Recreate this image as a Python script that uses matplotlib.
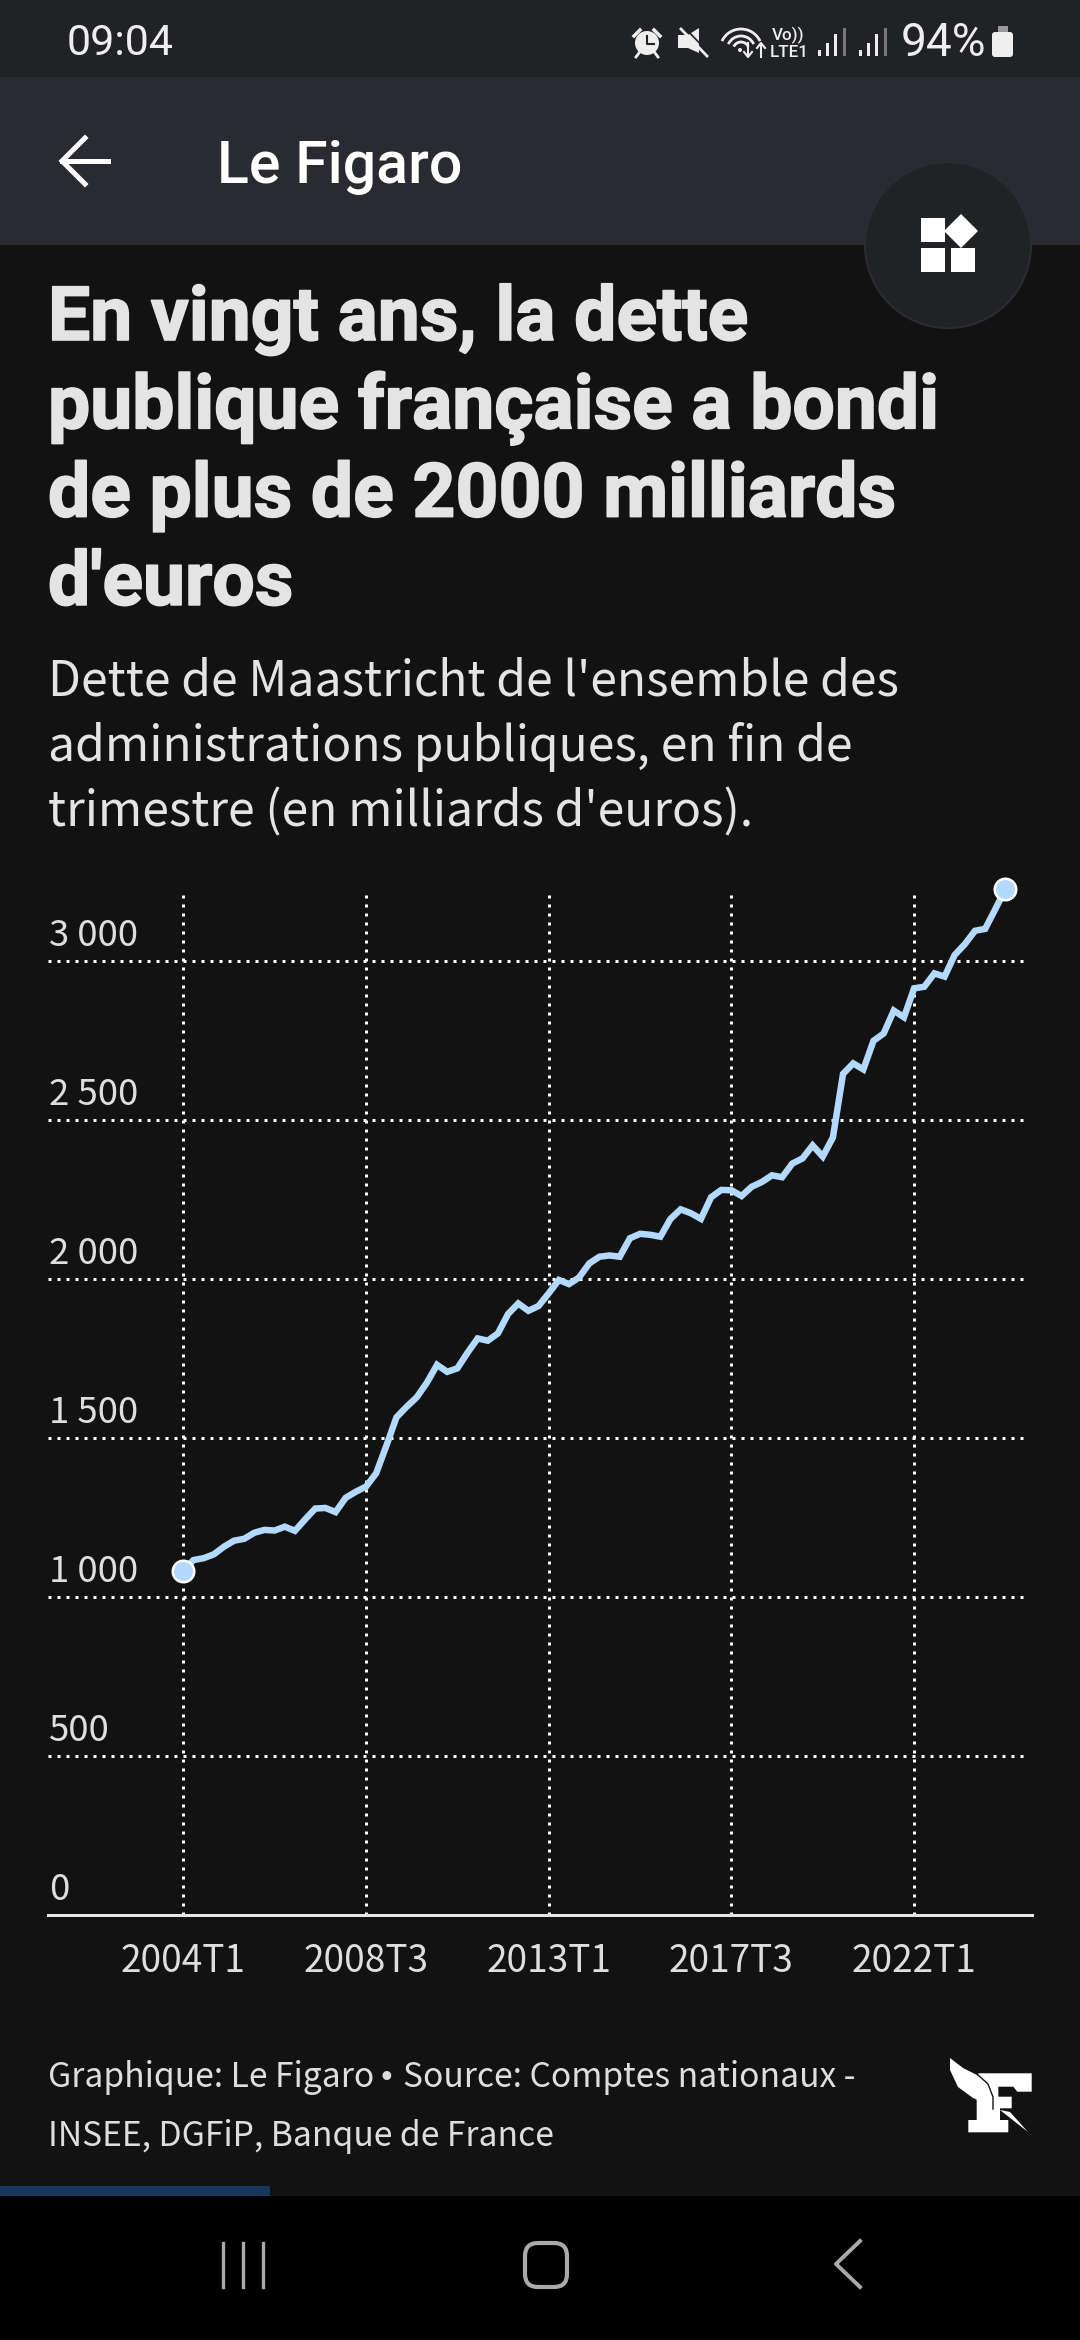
"""
Le Figaro : dette publique française, capture d'écran de l'appli
"""

import matplotlib
matplotlib.use("Agg")
import matplotlib.pyplot as plt
import matplotlib.patheffects as pe
from matplotlib.patches import Rectangle, Circle, Polygon, FancyBboxPatch, Arc
from matplotlib.lines import Line2D
from matplotlib.transforms import ScaledTranslation

W, H = 1080, 2340
plt.rcParams['font.family'] = ['Noto Sans CJK SC', 'DejaVu Sans']

BODY = "#121213"
LINE_COLOR = "#b3d9ff"
TEXT_COLOR = "#dedede"

# dette de Maastricht, un point par trimestre depuis 2004T1
debt = [
    1084, 1117, 1123, 1135, 1159, 1178, 1184, 1203, 1212, 1210, 1222, 1209,
    1245, 1279, 1281, 1268, 1313, 1332, 1348, 1390, 1476, 1566, 1599, 1629,
    1675, 1731, 1709, 1720, 1769, 1814, 1807, 1830, 1891, 1924, 1901, 1916,
    1956, 1998, 1985, 2006, 2050, 2071, 2075, 2071, 2129, 2143, 2140, 2134,
    2190, 2220, 2208, 2190, 2258, 2281, 2280, 2262, 2291, 2306, 2327, 2321,
    2364, 2380, 2421, 2386, 2446, 2646, 2679, 2660, 2750, 2773, 2845, 2824,
    2915, 2920, 2962, 2952, 3020, 3054, 3096, 3102, 3164, 3227,
]
y_ticks = [0, 500, 1000, 1500, 2000, 2500, 3000]
y_labels = ["0", "500", "1 000", "1 500", "2 000", "2 500", "3 000"]
x_ticks = [0, 18, 36, 54, 72]
x_labels = ["2004T1", "2008T3", "2013T1", "2017T3", "2022T1"]

title_lines = [
    "En vingt ans, la dette",
    "publique française a bondi",
    "de plus de 2000 milliards",
    "d'euros",
]
subtitle_lines = [
    "Dette de Maastricht de l'ensemble des",
    "administrations publiques, en fin de",
    "trimestre (en milliards d'euros).",
]
source_credit = "Graphique: Le Figaro"
source_first = "Source: Comptes nationaux -"
source_second = "INSEE, DGFiP, Banque de France"


def px(size):
    # taille de police en pixels -> points
    return size * 72 / 100


fig = plt.figure(figsize=(W / 100, H / 100), dpi=100, facecolor=BODY)

# fond : tout en coordonnées pixels
bg = fig.add_axes([0, 0, 1, 1])
bg.set_xlim(0, W)
bg.set_ylim(H, 0)
bg.axis("off")

bg.add_patch(Rectangle((0, 0), W, 77, color="#202226", lw=0))
bg.add_patch(Rectangle((0, 77), W, 168, color="#292b30", lw=0))
bg.add_patch(Rectangle((0, 2196), W, 144, color="black", lw=0))
bg.add_patch(Rectangle((0, 2186), 270, 10, color="#17375f", lw=0))

# barre d'état
ICON = "#eeeeee"
bg.text(67, 55, "09:04", family="Roboto", fontsize=px(43), color=ICON, va="baseline")
bg.text(901, 56, "94%", family="Roboto", fontsize=px(46), color=ICON, va="baseline")
bg.add_patch(FancyBboxPatch((992, 32), 21, 25, boxstyle="round,pad=0,rounding_size=3", color=ICON, lw=0))
bg.add_patch(Rectangle((998, 26), 10, 6, color="#999999", lw=0))
# réveil
bg.add_patch(Circle((647, 43), 12, color=ICON, lw=0))
bg.add_line(Line2D([647, 647, 654], [36, 44, 44], color="#202226", lw=1.5))
bg.add_line(Line2D([634, 640], [36, 30], color=ICON, lw=2.5))
bg.add_line(Line2D([654, 660], [30, 36], color=ICON, lw=2.5))
bg.add_line(Line2D([639, 636], [53, 57], color=ICON, lw=2))
bg.add_line(Line2D([655, 658], [53, 57], color=ICON, lw=2))
# son coupé
bg.add_patch(Polygon([(678, 35), (688, 35), (699, 28), (699, 53), (688, 48), (678, 48)], color=ICON, lw=0))
bg.add_line(Line2D([681, 707], [29, 56], color=ICON, lw=2))
bg.add_line(Line2D([684, 710], [27, 54], color="#202226", lw=1.2))
# wifi
for r in [21, 14, 8]:
    bg.add_patch(Arc((741, 50), r * 2, r * 2, theta1=205, theta2=335, color=ICON, lw=2))
bg.add_patch(Circle((740, 50), 2, color=ICON, lw=0))
bg.add_line(Line2D([748, 748], [43, 56], color=ICON, lw=1.5))
bg.add_line(Line2D([744, 748, 752], [52, 57, 52], color=ICON, lw=1.5))
bg.add_line(Line2D([761, 761], [44, 57], color=ICON, lw=1.5))
bg.add_line(Line2D([757, 761, 765], [48, 43, 48], color=ICON, lw=1.5))
bg.text(788, 40, "Vo))", family="Roboto", fontweight="medium", fontsize=px(17), color=ICON, ha="center", va="baseline")
bg.text(789.5, 57, "LTE1", family="Roboto", fontweight="medium", fontsize=px(17), color=ICON, ha="center", va="baseline")
# réseau
for x0 in [818, 859]:
    for i, h in enumerate([6, 13, 22, 28]):
        bg.add_patch(Rectangle((x0 + i * 8.2, 56 - h), 3, h, color=ICON if i < 3 else "#777777", lw=0))

# barre d'appli
bg.add_line(Line2D([85, 62, 85], [138, 161, 184], color="white", lw=3.6, solid_joinstyle="miter"))
bg.add_line(Line2D([62, 108], [161, 161], color="white", lw=3.6))
bg.text(217, 183, "Le Figaro", family="Roboto", fontweight="medium", fontsize=px(59), color="white", va="baseline")

# bouton flottant
bg.add_patch(Circle((948, 245), 83, facecolor="#202226", edgecolor="#2a2c31", lw=1.5))
for x0, y0 in [(921, 218), (921, 248), (951, 248)]:
    bg.add_patch(Rectangle((x0, y0), 24, 24, color="white", lw=0))
bg.add_patch(Polygon([(961, 214), (978, 231), (961, 248), (944, 231)], color="white", lw=0))

# titre (un peu épaissi, le gras de la capture est plus lourd)
for i, line in enumerate(title_lines):
    bg.text(48, 340 + i * 88.3, line, family="Roboto", fontweight="bold", fontsize=px(75),
            color="#e4e4e4", va="baseline",
            path_effects=[pe.withStroke(linewidth=1.2, foreground="#e4e4e4")])
for i, line in enumerate(subtitle_lines):
    bg.text(48, 695 + i * 65.5, line, fontsize=px(48), color="#e4e4e4", va="baseline")

# source : la puce de la police CJK est trop large, on la prend dans DejaVu
bg.text(48, 2087, source_credit, fontsize=px(33.6), fontweight="light", color=TEXT_COLOR, va="baseline")
bg.text(386, 2087, "•", family="DejaVu Sans", fontsize=px(30), color=TEXT_COLOR, ha="center", va="baseline")
bg.text(403, 2087, source_first, fontsize=px(33.6), fontweight="light", color=TEXT_COLOR, va="baseline")
bg.text(48, 2145.5, source_second, fontsize=px(33.6), fontweight="light", color=TEXT_COLOR, va="baseline")

# logo
f_shape = [(1031.7, 2073.3), (978.3, 2073.3), (976.7, 2100), (976.7, 2120), (968.3, 2120), (968.3, 2132.3),
           (1008.3, 2132.3), (1008.3, 2120), (1000, 2120), (1000, 2108.3), (1011.7, 2108.3), (1011.7, 2096.7),
           (998.3, 2096.7), (998.3, 2086.7), (1013.3, 2086.7), (1017.3, 2091.7), (1031.7, 2091.7)]
feather = [(950, 2058), (963, 2068), (977, 2075), (988, 2085), (992, 2097), (992, 2108), (982, 2102),
           (973, 2098), (958, 2087), (950, 2070)]
quill = [(1000, 2110), (1010, 2112), (1028, 2132)]
bg.add_patch(Polygon(f_shape, color="white", lw=0))
bg.add_patch(Polygon(feather, color="white", lw=0))
bg.add_line(Line2D([977, 988, 993, 993], [2074, 2084, 2097, 2109], color=BODY, lw=1))
bg.add_patch(Polygon(quill, color="white", lw=0))

# barre de navigation
NAV = "#aaaaaa"
for x0 in [222.5, 242.5, 262.5]:
    bg.add_line(Line2D([x0, x0], [2243, 2287], color=NAV, lw=2.4))
bg.add_patch(FancyBboxPatch((525, 2243), 42, 44, boxstyle="round,pad=0,rounding_size=13",
                            facecolor="none", edgecolor=NAV, lw=3))
bg.add_line(Line2D([860, 836, 860], [2241, 2264, 2287], color=NAV, lw=2.8))

# graphique : axes calés sur les pixels de la capture
left, right, top, bottom = 48, 1032, 895, 1915.3
ax = fig.add_axes([left / W, 1 - bottom / H, (right - left) / W, (bottom - top) / H])
ax.patch.set_alpha(0)
ax.set_xlim((left - 183.3) / 10.15, (right - 183.3) / 10.15)
ax.set_ylim(0, (bottom - top) / 0.318)

ax.set_xticks(x_ticks)
ax.set_xticklabels(x_labels, fontsize=px(37), fontweight="light", color=TEXT_COLOR)
ax.set_yticks(y_ticks)
ax.set_yticklabels(y_labels, fontsize=px(36.5), fontweight="light", color=TEXT_COLOR, ha="left", va="bottom")
ax.tick_params(axis="x", length=0, pad=px(27))
ax.tick_params(axis="y", length=0, pad=-px(1))
for label in ax.get_yticklabels():
    label.set_transform(label.get_transform() + ScaledTranslation(0, 7 / 100, fig.dpi_scale_trans))

ax.grid(True, axis="x", color="white", linewidth=px(3), linestyle=(0, (1, 2)))
for v in y_ticks[1:]:
    ax.axhline(v, xmax=0.992, color="white", linewidth=px(3), linestyle=(0, (1, 2)), zorder=1)

for name in ["top", "right", "left"]:
    ax.spines[name].set_visible(False)
ax.spines["bottom"].set_color("#e6e6e6")
ax.spines["bottom"].set_linewidth(px(3))

ax.plot(range(len(debt)), debt, color=LINE_COLOR, linewidth=px(6.5), solid_joinstyle="miter",
        clip_on=False, zorder=3)
ax.plot([0, len(debt) - 1], [debt[0], debt[-1]], linestyle="none", marker="o", markersize=px(21.5),
        markerfacecolor=LINE_COLOR, markeredgecolor="white", markeredgewidth=px(2.5), clip_on=False, zorder=4)

fig.savefig("out.png", dpi=100, facecolor=BODY)
